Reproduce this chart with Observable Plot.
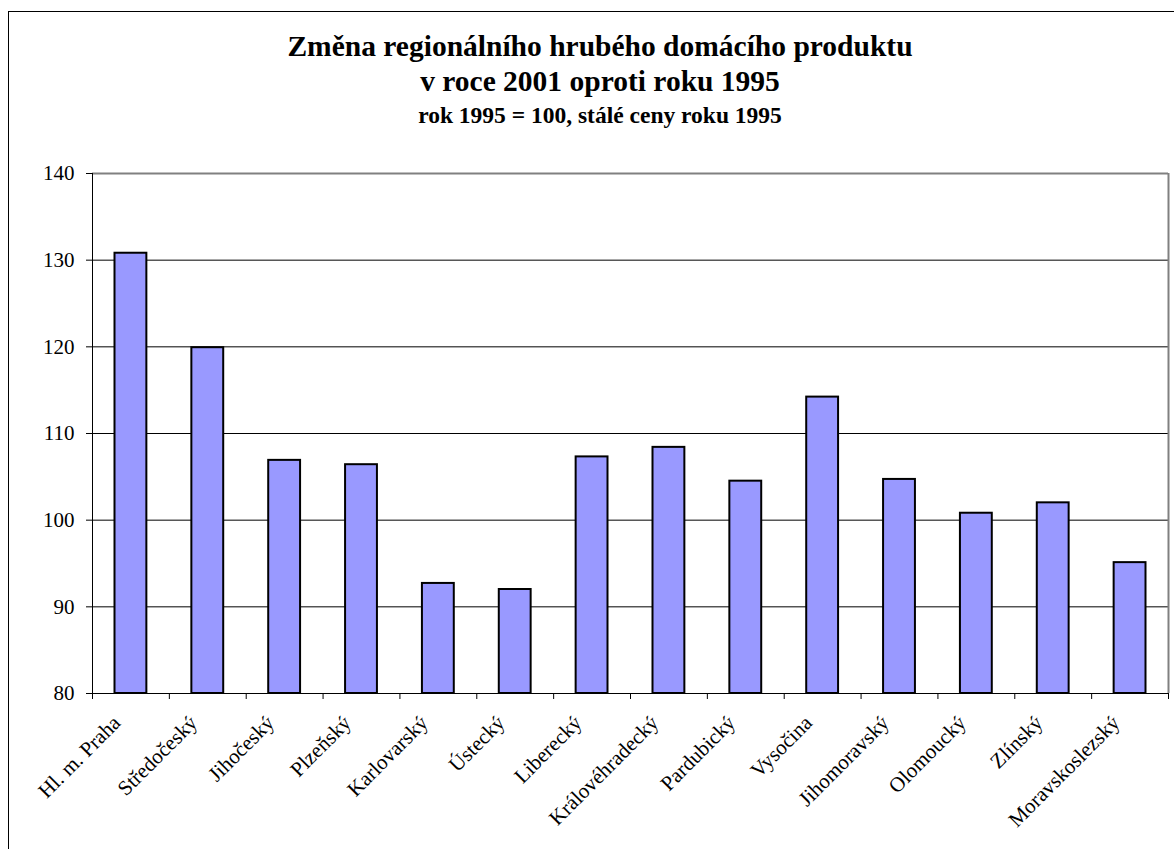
<!DOCTYPE html>
<html>
<head>
<meta charset="utf-8">
<script src="https://cdn.jsdelivr.net/npm/d3@7"></script>
<script src="https://cdn.jsdelivr.net/npm/@observablehq/plot@0.6"></script>
<style>
html,body{margin:0;padding:0;background:#fff;overflow:hidden;}
#page{position:relative;width:1174px;height:849px;overflow:hidden;font-family:"Liberation Serif","Times New Roman",serif;color:#000;}
#frame{position:absolute;left:8px;top:11px;width:1400px;height:1000px;border-left:1.5px solid #000;border-top:1.5px solid #000;}
.t{position:absolute;left:13px;width:1174px;text-align:center;font-weight:bold;white-space:nowrap;}
#t1{top:29px;font-size:29.5px;line-height:35px;}
#t2{top:101px;font-size:23.5px;line-height:28px;}
#chart{position:absolute;left:0;top:150px;}
</style>
</head>
<body>
<div id="page">
  <div id="frame"></div>
  <div class="t" id="t1">Změna regionálního hrubého domácího produktu<br>v roce 2001 oproti roku 1995</div>
  <div class="t" id="t2">rok 1995 = 100, stálé ceny roku 1995</div>
  <div id="chart"></div>
</div>
<script>
const regions = ["Hl. m. Praha","Středočeský","Jihočeský","Plzeňský","Karlovarský","Ústecký","Liberecký","Královéhradecký","Pardubický","Vysočina","Jihomoravský","Olomoucký","Zlínský","Moravskoslezský"];
const values = [130.8, 119.9, 106.9, 106.4, 92.7, 92.0, 107.3, 108.4, 104.5, 114.2, 104.7, 100.8, 102.0, 95.1];
const yTicks = [80, 90, 100, 110, 120, 130, 140];

const data = regions.map((r, i) => ({region: r, index: i, value: values[i]}));
const boundaries = d3.range(regions.length + 1);
const yMin = yTicks[0], yMax = yTicks[yTicks.length - 1];
const serif = "'Liberation Serif','Times New Roman',serif";

const chart = Plot.plot({
  width: 1174,
  height: 693,
  marginLeft: 92,
  marginRight: 6,
  marginTop: 23,
  marginBottom: 150,
  style: {fontFamily: serif, background: "transparent", color: "#000"},
  x: {domain: [0, regions.length], axis: null},
  y: {domain: [yMin, yMax], axis: null},
  marks: [
    Plot.ruleY(yTicks.slice(1, -1), {stroke: "#000", strokeWidth: 1}),
    Plot.ruleY([yMax], {stroke: "#808080", strokeWidth: 2}),
    Plot.ruleX([regions.length], {stroke: "#808080", strokeWidth: 2}),
    Plot.rect(data, {
      x1: "index", x2: d => d.index + 1, y1: () => yMin, y2: "value",
      fill: "#9999FF", stroke: "#000", strokeWidth: 2,
      insetLeft: 22.5, insetRight: 22.5
    }),
    Plot.ruleX([0], {stroke: "#000", strokeWidth: 1}),
    Plot.ruleY([yMin], {stroke: "#000", strokeWidth: 1}),
    Plot.axisY({ticks: yTicks, tickSize: 6, tickPadding: 12, fontSize: 21, fontFamily: serif, tickFormat: d => String(d), stroke: "#000", label: null}),
    Plot.axisX({ticks: boundaries, tickSize: 6, tickFormat: () => "", stroke: "#000", label: null}),
    Plot.text(data, {
      x: d => d.index + 0.5, y: () => yMin, text: "region",
      rotate: -45, textAnchor: "end", dx: -14, dy: 26,
      fontSize: 21, fontFamily: serif, fill: "#000"
    })
  ]
});
document.getElementById("chart").appendChild(chart);
</script>
</body>
</html>
